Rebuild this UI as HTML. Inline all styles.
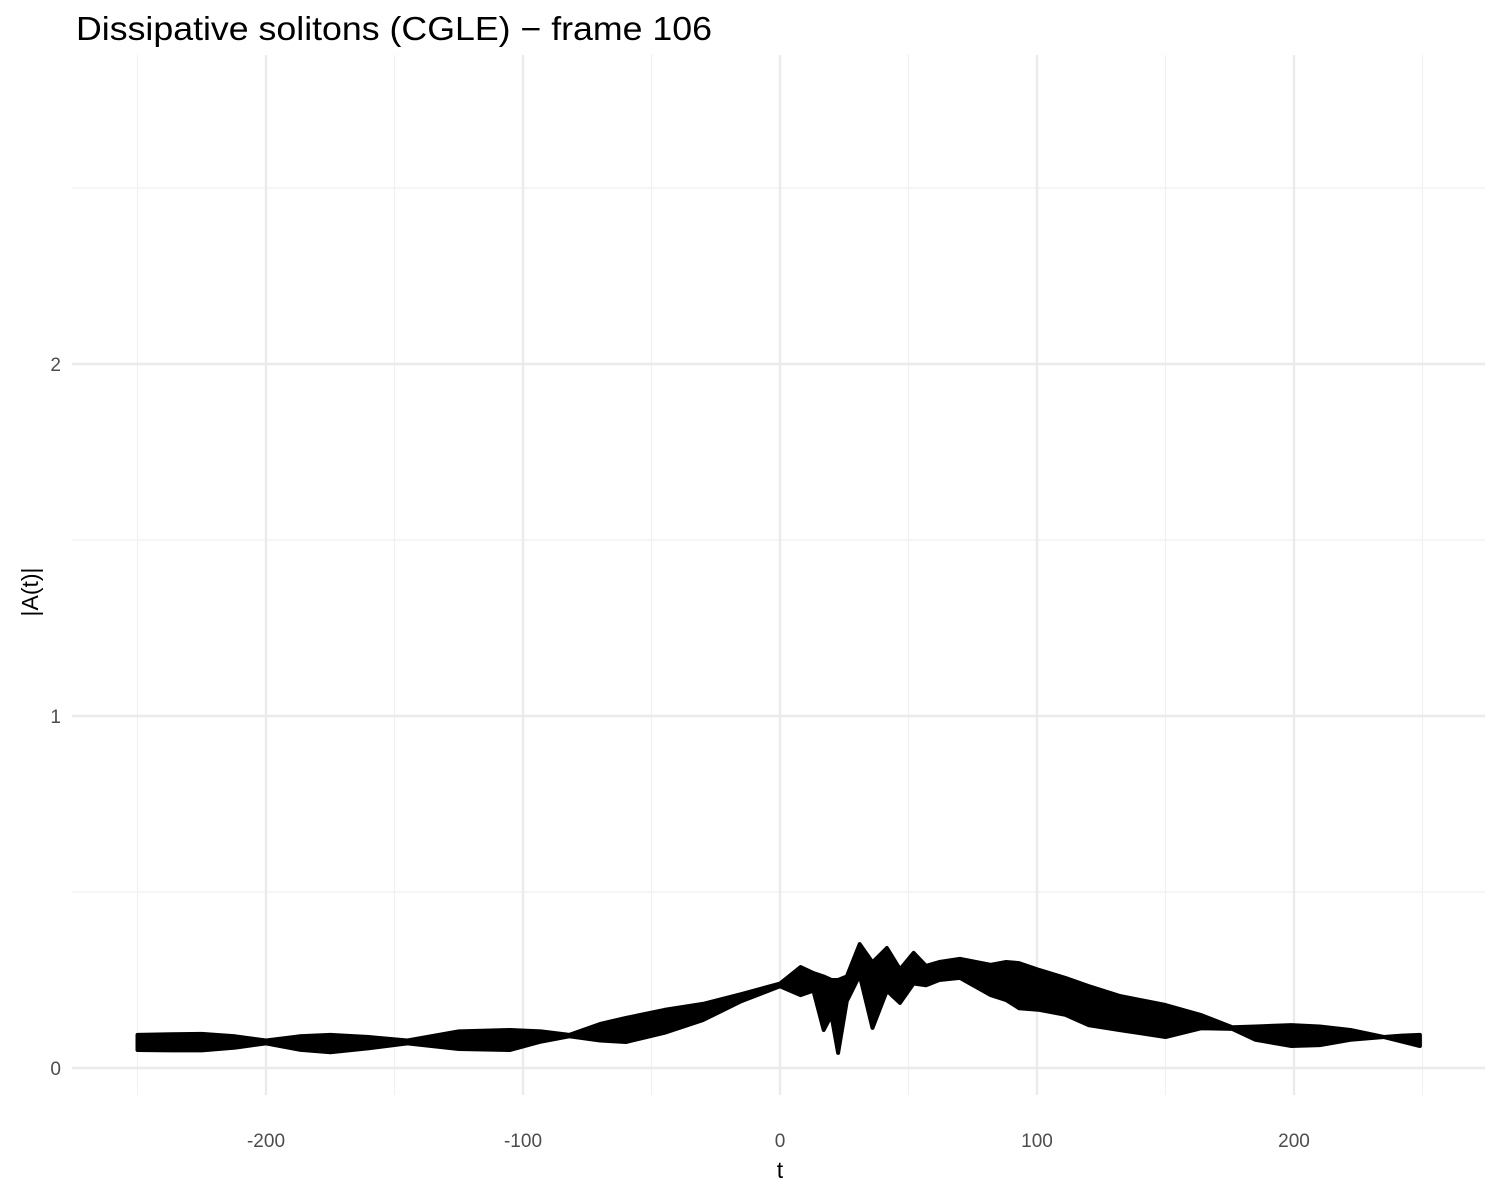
<!DOCTYPE html>
<html><head><meta charset="utf-8"><style>
html,body{margin:0;padding:0;background:#fff;}
svg{display:block;font-family:"Liberation Sans",sans-serif;}
</style></head><body>
<svg id="chart" width="1500" height="1200">
<text x="76" y="40" font-size="33" textLength="636" lengthAdjust="spacingAndGlyphs" fill="#000">Dissipative solitons (CGLE) − frame 106</text>
<g id="grid"></g>
<g id="ticks"></g>
<g id="series"></g>
<text x="780" y="1178" font-size="23" text-anchor="middle" fill="#000">t</text>
<text transform="translate(38,592) rotate(-90)" font-size="23" text-anchor="middle" fill="#000">|A(t)|</text>
</svg>
<script>
const tValues=[-250,-237,-225,-212,-200,-187,-175,-160,-145,-125,-105,-93,-82,-70,-60,-45,-30,-15,0,8,13,17,20,22.6,26,31,36,41.6,46.7,52,56.8,62,70,82,88,93,101,111,120,132,150,164,176,185,199,210,222,235,242,249];
const upperValues=[.094,.096,.097,.09,.078,.09,.094,.088,.078,.104,.108,.104,.094,.125,.142,.165,.182,.21,.24,.287,.27,.26,.25,.25,.26,.352,.30,.341,.28,.327,.29,.301,.31,.293,.301,.298,.278,.256,.233,.205,.179,.15,.116,.118,.122,.118,.108,.088,.092,.094];
const lowerValues=[.051,.050,.050,.058,.070,.052,.045,.056,.070,.054,.051,.075,.090,.078,.074,.10,.136,.19,.232,.207,.22,.108,.15,.043,.19,.264,.114,.22,.185,.24,.235,.25,.256,.207,.193,.17,.165,.151,.122,.108,.088,.113,.111,.08,.0625,.065,.08,.088,.075,.0625];
const xMajor=[-200,-100,0,100,200];
const xMinor=[-250,-150,-50,50,150,250];
const yMajor=[0,1,2];
const yMinor=[0.5,1.5,2.5];
const xTickLabels=["-200","-100","0","100","200"];
const yTickLabels=["0","1","2"];
const NS="http://www.w3.org/2000/svg";
const X=t=>780+t*2.57;
const Y=v=>1068-v*352;
const L=72,R=1485,T=55,B=1095;
const grid=document.getElementById('grid'),ticks=document.getElementById('ticks'),ser=document.getElementById('series');
function line(x1,y1,x2,y2,w,c){const l=document.createElementNS(NS,'line');l.setAttribute('x1',x1);l.setAttribute('y1',y1);l.setAttribute('x2',x2);l.setAttribute('y2',y2);l.setAttribute('stroke',c);l.setAttribute('stroke-width',w);grid.appendChild(l);return l;}
xMinor.forEach(t=>{const l=line(X(t),T,X(t),B,1.2,'#f0f0f0');

});
yMinor.forEach(v=>{const l=line(L,Y(v),R,Y(v),1.2,'#f0f0f0');

});
xMajor.forEach(t=>{const l=line(X(t),T,X(t),B,2.4,'#ebebeb');

});
yMajor.forEach(v=>{const l=line(L,Y(v),R,Y(v),2.4,'#ebebeb');

});
function txt(x,y,s,a){const e=document.createElementNS(NS,'text');e.setAttribute('x',x);e.setAttribute('y',y);e.setAttribute('font-size','19');e.setAttribute('fill','#4d4d4d');e.setAttribute('text-anchor',a);e.textContent=s;ticks.appendChild(e);return e;}
xMajor.forEach((t,i)=>{const e=txt(X(t),1147,xTickLabels[i],'middle');

});
yMajor.forEach((v,i)=>{const e=txt(61,Y(v)+7,yTickLabels[i],'end');

});
let d='';
tValues.forEach((t,i)=>{d+=(i?'L':'M')+X(t).toFixed(1)+','+Y(upperValues[i]).toFixed(1);});
for(let i=tValues.length-1;i>=0;i--){d+='L'+X(tValues[i]).toFixed(1)+','+Y(lowerValues[i]).toFixed(1);}
d+='Z';
const p=document.createElementNS(NS,'path');
p.setAttribute('d',d);p.setAttribute('fill','#000');p.setAttribute('stroke','#000');p.setAttribute('stroke-width','4');p.setAttribute('stroke-linejoin','round');


ser.appendChild(p);
</script>
</body></html>
